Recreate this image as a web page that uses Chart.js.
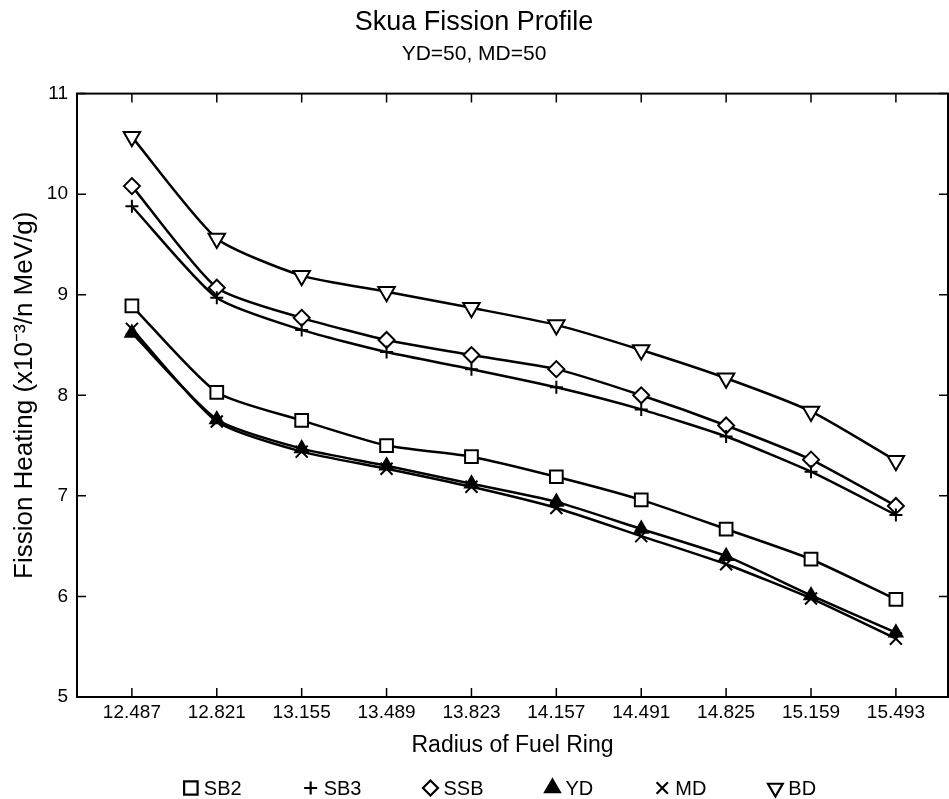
<!DOCTYPE html>
<html>
<head>
<meta charset="utf-8">
<script src="https://cdn.jsdelivr.net/npm/chart.js@4/dist/chart.umd.min.js"></script>
<style>
  html, body { margin: 0; padding: 0; background: #fff; overflow: hidden; }
  #wrap { width: 949px; height: 799px; }
</style>
</head>
<body>
<div id="wrap"><canvas id="chart"></canvas></div>
<script>
// valori
const radius = [12.487, 12.821, 13.155, 13.489, 13.823, 14.157, 14.491, 14.825, 15.159, 15.493];
const sb2 = [8.89, 8.03, 7.75, 7.50, 7.39, 7.19, 6.96, 6.67, 6.37, 5.97];
const sb3 = [9.88, 8.97, 8.65, 8.43, 8.26, 8.08, 7.86, 7.59, 7.24, 6.81];
const ssb = [10.08, 9.07, 8.77, 8.55, 8.40, 8.26, 8.00, 7.70, 7.36, 6.90];
const yd = [8.62, 7.76, 7.47, 7.30, 7.12, 6.94, 6.67, 6.40, 6.01, 5.64];
const md = [8.66, 7.74, 7.44, 7.27, 7.09, 6.88, 6.60, 6.32, 5.98, 5.58];
const bd = [10.57, 9.56, 9.19, 9.03, 8.87, 8.70, 8.45, 8.17, 7.84, 7.35];
const yTicks = [5, 6, 7, 8, 9, 10, 11];

const FONT = "'Liberation Sans', Arial, sans-serif";
Chart.defaults.color = "#000";
Chart.defaults.font.family = FONT;

function toPoints(values) {
  return values.map((v, i) => ({ x: radius[i], y: v }));
}

function serie(label, values, style, r, fill, rotation) {
  return {
    label: label,
    data: toPoints(values),
    borderColor: "#000",
    borderWidth: 2.5,
    tension: 0.2,
    pointStyle: style,
    pointRadius: r,
    pointRotation: rotation || 0,
    pointBorderWidth: 2,
    pointBorderColor: "#000",
    pointBackgroundColor: fill,
  };
}

// cornice e tacche interne
const frameTicks = {
  id: "frameTicks",
  afterDraw(chart) {
    const { ctx, chartArea: a, scales } = chart;
    const x = scales.x;
    const y = scales.y;
    ctx.save();
    ctx.strokeStyle = "#000";
    ctx.lineWidth = 2;
    ctx.strokeRect(a.left, a.top, a.right - a.left, a.bottom - a.top);
    ctx.lineWidth = 1.5;
    ctx.beginPath();
    x.ticks.forEach((t) => {
      const px = x.getPixelForValue(t.value);
      ctx.moveTo(px, a.bottom);
      ctx.lineTo(px, a.bottom - 9);
      ctx.moveTo(px, a.top);
      ctx.lineTo(px, a.top + 9);
    });
    y.ticks.forEach((t) => {
      const py = y.getPixelForValue(t.value);
      ctx.moveTo(a.left, py);
      ctx.lineTo(a.left + 9, py);
      ctx.moveTo(a.right, py);
      ctx.lineTo(a.right - 9, py);
    });
    ctx.stroke();
    ctx.restore();
  },
};

// legenda in basso, con spaziatura larga come nell'originale
const wideLegend = {
  id: "wideLegend",
  afterDraw(chart) {
    const ctx = chart.ctx;
    const sets = chart.data.datasets;
    const legendR = { rect: 9.5, cross: 6.5, rectRot: 7.5, triangle: 8.5, crossRot: 8 };
    const markW = 14;
    const gapIn = 6;
    const gap = 62;
    const cy = 788;
    ctx.save();
    ctx.font = "20px " + FONT;
    ctx.textBaseline = "middle";
    ctx.textAlign = "left";
    let total = 0;
    sets.forEach((ds, i) => {
      total += markW + gapIn + ctx.measureText(ds.label).width;
      if (i > 0) total += gap;
    });
    let cx = 500 - total / 2;
    sets.forEach((ds) => {
      ctx.strokeStyle = "#000";
      ctx.fillStyle = ds.pointBackgroundColor;
      ctx.lineWidth = 2.2;
      Chart.helpers.drawPoint(ctx, {
        pointStyle: ds.pointStyle,
        rotation: ds.pointRotation,
        radius: legendR[ds.pointStyle],
        borderWidth: 2.2,
      }, cx + markW / 2, cy);
      ctx.fillStyle = "#000";
      ctx.fillText(ds.label, cx + markW + gapIn, cy + 1);
      cx += markW + gapIn + ctx.measureText(ds.label).width + gap;
    });
    ctx.restore();
  },
};

const ctxChart = document.getElementById("chart").getContext("2d");

let chart = new Chart(ctxChart, {
  type: "line",
  data: {
    datasets: [
      serie("SB2", sb2, "rect", 9, "#fff"),
      serie("SB3", sb3, "cross", 6.5, "#fff"),
      serie("SSB", ssb, "rectRot", 8, "#fff"),
      serie("YD", yd, "triangle", 7.5, "#000"),
      serie("MD", md, "crossRot", 8.5, "#fff"),
      serie("BD", bd, "triangle", 9.5, "#fff", 180),
    ],
  },
  options: {
    responsive: true,
    maintainAspectRatio: false,
    animation: false,
    layout: { autoPadding: false, padding: { left: 0, right: 1, top: 0, bottom: 40 } },
    plugins: {
      legend: { display: false },
      tooltip: { enabled: false },
      title: {
        display: true,
        text: "Skua Fission Profile",
        font: { size: 27, weight: "normal" },
        padding: { top: 6, bottom: 0 },
      },
      subtitle: {
        display: true,
        text: "YD=50, MD=50",
        font: { size: 21 },
        padding: { top: 3, bottom: 27 },
      },
    },
    scales: {
      x: {
        type: "linear",
        min: 12.271,
        max: 15.698,
        grid: { display: false },
        border: { display: false },
        afterBuildTicks: (scale) => {
          scale.ticks = radius.map((v) => ({ value: v }));
        },
        afterFit: (scale) => {
          scale.height = 62;
          scale.paddingLeft = 0;
          scale.paddingRight = 0;
        },
        ticks: {
          font: { size: 19 },
          padding: -4,
          maxRotation: 0,
          autoSkip: false,
          callback: (v) => Number(v).toFixed(3),
        },
        title: {
          display: true,
          text: "Radius of Fuel Ring",
          font: { size: 23 },
          padding: { top: 0, bottom: 0 },
        },
      },
      y: {
        min: 5,
        max: 11,
        grid: { display: false },
        border: { display: false },
        afterBuildTicks: (scale) => {
          scale.ticks = yTicks.map((v) => ({ value: v }));
        },
        afterFit: (scale) => {
          scale.width = 77;
        },
        ticks: {
          font: { size: 19 },
          padding: 1,
        },
        title: {
          display: true,
          text: "Fission Heating (x10\u207B\u00B3/n MeV/g)",
          font: { size: 26 },
          padding: { top: 9, bottom: 0 },
        },
      },
    },
  },
  plugins: [frameTicks, wideLegend],
});
</script>
</body>
</html>
